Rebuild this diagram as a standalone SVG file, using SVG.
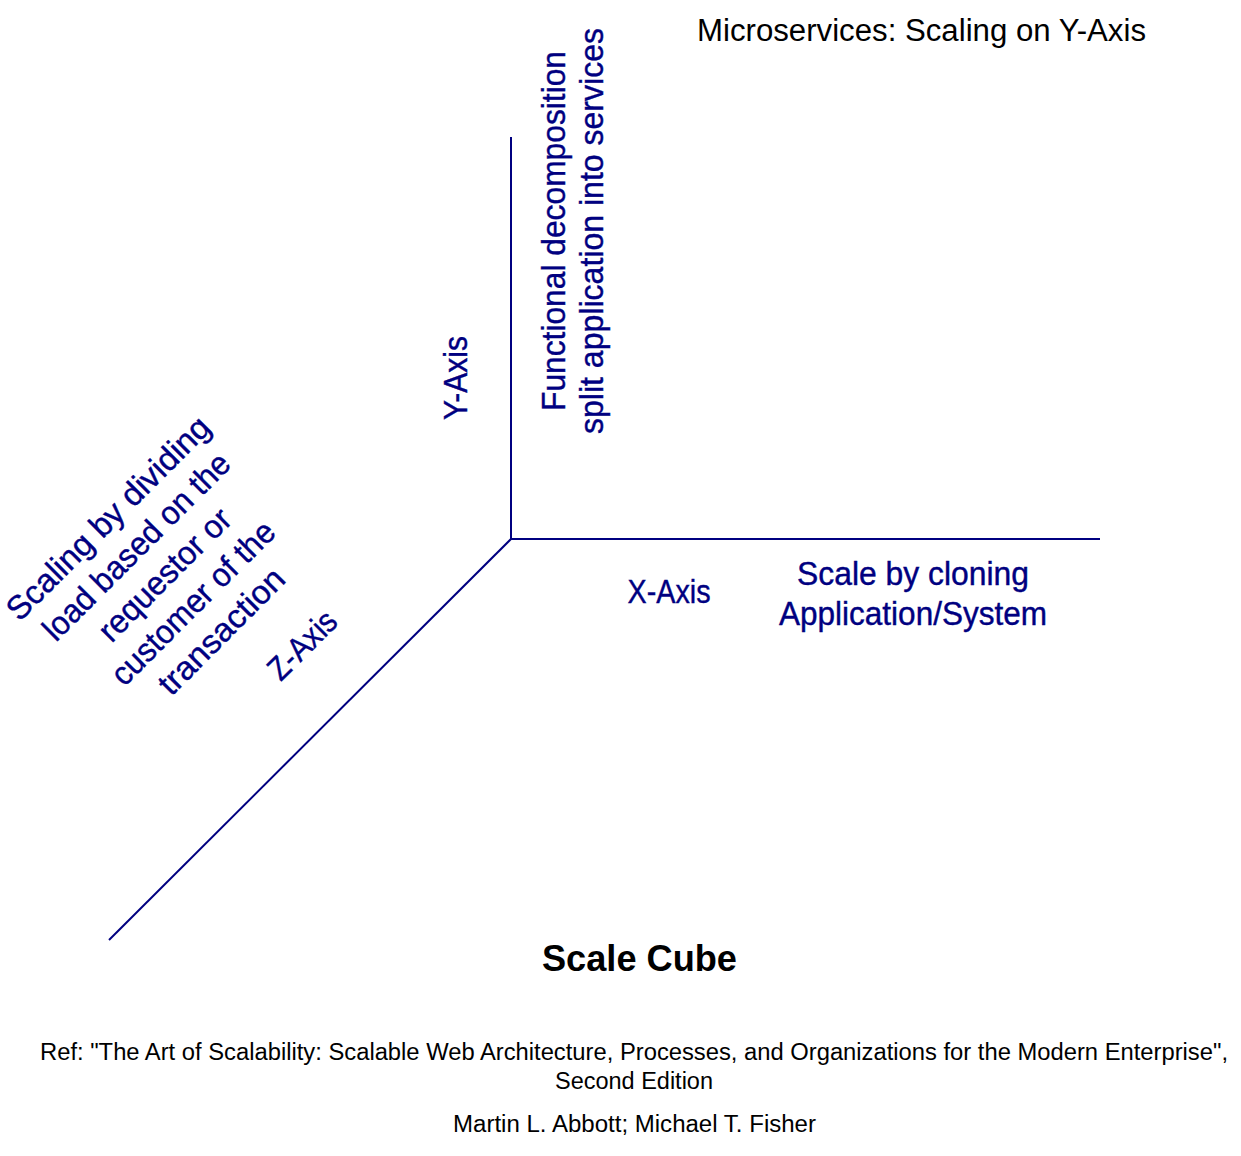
<svg xmlns="http://www.w3.org/2000/svg" width="1241" height="1156" viewBox="0 0 1241 1156">
<style>
.b{font-family:"Liberation Sans",Arial,sans-serif;font-size:33px;fill:#000080;stroke:#000080;stroke-width:0.4}
.k{font-family:"Liberation Sans Narrow","Liberation Sans",Arial,sans-serif;fill:#000}
.ax{stroke:#000080;stroke-width:2;fill:none}
</style>
<rect width="1241" height="1156" fill="#fff"/>
<g id="connectors">
<line class="ax" x1="511" y1="137" x2="511" y2="539"/>
<line class="ax" x1="510" y1="539" x2="1100" y2="539"/>
<line class="ax" x1="511" y1="539" x2="109" y2="940"/>
</g>
<g id="title"><text class="k" x="697" y="41" font-size="31" textLength="449" lengthAdjust="spacingAndGlyphs">Microservices: Scaling on Y-Axis</text></g>
<g id="y-axis-label"><text class="b" transform="translate(467,378) rotate(-90)" text-anchor="middle" textLength="84" lengthAdjust="spacingAndGlyphs">Y-Axis</text></g>
<g id="y-axis-desc" transform="translate(565,231) rotate(-90)">
<text class="b" x="0" y="0" text-anchor="middle" textLength="360" lengthAdjust="spacingAndGlyphs">Functional decomposition</text>
<text class="b" x="0" y="38" text-anchor="middle" textLength="406" lengthAdjust="spacingAndGlyphs">split application into services</text>
</g>
<g id="x-axis-label"><text class="b" x="669" y="603" text-anchor="middle" textLength="83" lengthAdjust="spacingAndGlyphs">X-Axis</text></g>
<g id="x-axis-desc">
<text class="b" x="913" y="585" text-anchor="middle" textLength="232" lengthAdjust="spacingAndGlyphs">Scale by cloning</text>
<text class="b" x="913" y="625" text-anchor="middle" textLength="268" lengthAdjust="spacingAndGlyphs">Application/System</text>
</g>
<g id="z-axis-label"><text class="b" transform="translate(310,653) rotate(-45)" text-anchor="middle" textLength="83" lengthAdjust="spacingAndGlyphs">Z-Axis</text></g>
<g id="z-axis-desc" transform="translate(116,526) rotate(-45)">
<text class="b" x="0" y="0" text-anchor="middle" textLength="273" lengthAdjust="spacingAndGlyphs">Scaling by dividing</text>
<text class="b" x="0" y="40" text-anchor="middle" textLength="250" lengthAdjust="spacingAndGlyphs">load based on the</text>
<text class="b" x="0" y="80" text-anchor="middle" textLength="173" lengthAdjust="spacingAndGlyphs">requestor or</text>
<text class="b" x="0" y="120" text-anchor="middle" textLength="217" lengthAdjust="spacingAndGlyphs">customer of the</text>
<text class="b" x="0" y="160" text-anchor="middle" textLength="164" lengthAdjust="spacingAndGlyphs">transaction</text>
</g>
<g id="caption"><text class="k" x="639.5" y="971" font-size="37" font-weight="bold" text-anchor="middle" textLength="195" lengthAdjust="spacingAndGlyphs">Scale Cube</text></g>
<g id="reference">
<text class="k" x="634" y="1060" font-size="23" text-anchor="middle" textLength="1188" lengthAdjust="spacingAndGlyphs">Ref: "The Art of Scalability: Scalable Web Architecture, Processes, and Organizations for the Modern Enterprise",</text>
<text class="k" x="634" y="1089" font-size="23" text-anchor="middle" textLength="158" lengthAdjust="spacingAndGlyphs">Second Edition</text>
<text class="k" x="634.5" y="1132" font-size="23" text-anchor="middle" textLength="363" lengthAdjust="spacingAndGlyphs">Martin L. Abbott; Michael T. Fisher</text>
</g>
</svg>
